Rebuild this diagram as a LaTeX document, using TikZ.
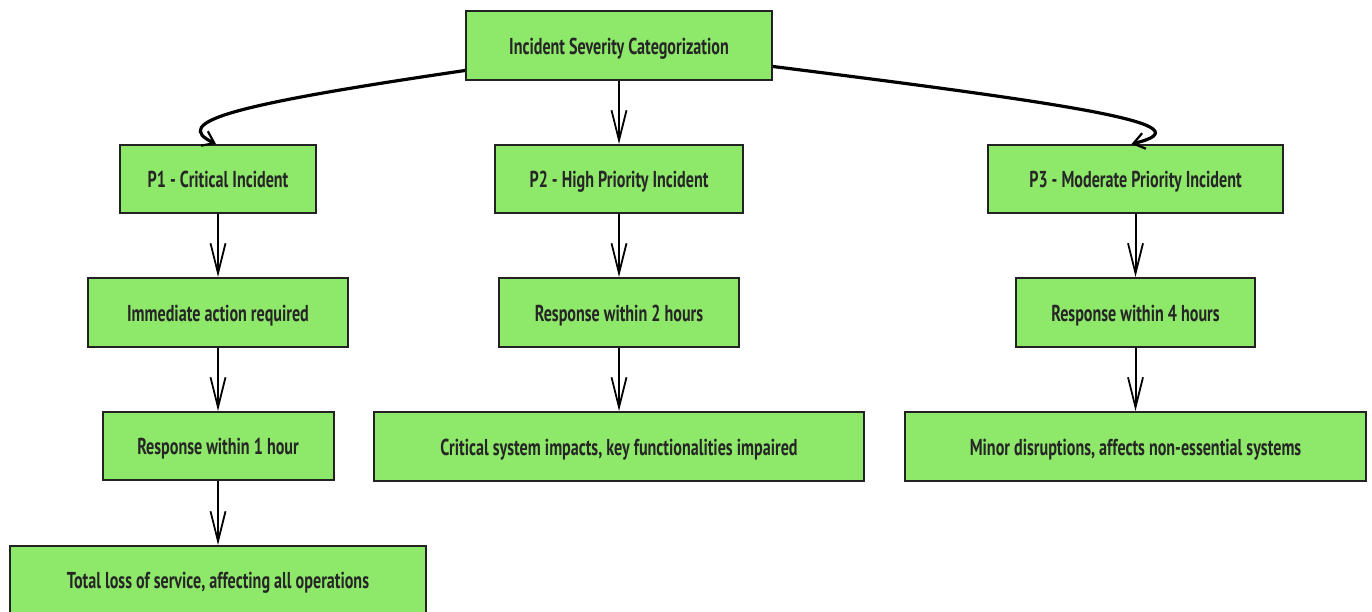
\documentclass[tikz,border=0pt]{standalone}
\usepackage{fontspec}
\setmainfont{PT Sans}[FakeStretch=0.70]
\usetikzlibrary{arrows.meta}
\definecolor{boxfill}{RGB}{142,232,106}
\definecolor{boxline}{RGB}{34,34,34}
\definecolor{txt}{RGB}{38,38,38}
\tikzset{
  box/.style={draw=boxline, line width=2pt, fill=boxfill, text=txt,
    font=\fontsize{23}{26}\selectfont\bfseries, inner sep=0pt, anchor=center,
    text height=18pt, text depth=1pt},
  link/.style={draw=black, line width=2pt, -{Straight Barb[length=30pt,width=15pt,line width=1.8pt]}},
  curvelink/.style={draw=black, line width=3.2pt, -{Straight Barb[length=11pt,width=16pt,line width=2.2pt]}},
}
\begin{document}
\begin{tikzpicture}[x=1pt,y=-1pt]
\useasboundingbox (0,0) rectangle (1372,611);
\fill[white] (0,0) rectangle (1372,611);
\node[box, minimum width=306pt, minimum height=69pt] (top) at (619,45.5) {Incident Severity Categorization};
\node[box, minimum width=196pt, minimum height=68pt] (p1) at (218,179) {P1 - Critical Incident};
\node[box, minimum width=248pt, minimum height=68pt] (p2) at (619,179) {P2 - High Priority Incident};
\node[box, minimum width=295pt, minimum height=68pt] (p3) at (1135.5,179) {P3 - Moderate Priority Incident};
\node[box, minimum width=260pt, minimum height=69pt] (imm) at (218,312.5) {Immediate action required};
\node[box, minimum width=240pt, minimum height=69pt] (r2) at (619,312.5) {Response within 2 hours};
\node[box, minimum width=239pt, minimum height=69pt] (r4) at (1135.5,312.5) {Response within 4 hours};
\node[box, minimum width=231pt, minimum height=68pt] (r1) at (218,446) {Response within 1 hour};
\node[box, minimum width=490pt, minimum height=69pt] (crit) at (619,446.5) {Critical system impacts, key functionalities impaired};
\node[box, minimum width=461pt, minimum height=69pt] (minor) at (1135.5,446.5) {Minor disruptions, affects non-essential systems};
\node[box, minimum width=416pt, minimum height=68pt] (total) at (218,580) {Total loss of service, affecting all operations};
\coordinate (tl) at ([yshift=-25pt]top.west);
\coordinate (tr) at ([yshift=-21pt]top.east);
\draw[curvelink] (tl) .. controls (230,105) and (170,122) .. ([xshift=-2pt]p1.north);
\draw[curvelink] (tr) .. controls (1080,105) and (1210,125) .. ([xshift=-4pt]p3.north);
\draw[link] (top.south) -- (p2.north);
\draw[link] (p1.south) -- (imm.north);
\draw[link] (imm.south) -- (r1.north);
\draw[link] (r1.south) -- (total.north);
\draw[link] (p2.south) -- (r2.north);
\draw[link] (r2.south) -- (crit.north);
\draw[link] (p3.south) -- (r4.north);
\draw[link] (r4.south) -- (minor.north);
\end{tikzpicture}
\end{document}
